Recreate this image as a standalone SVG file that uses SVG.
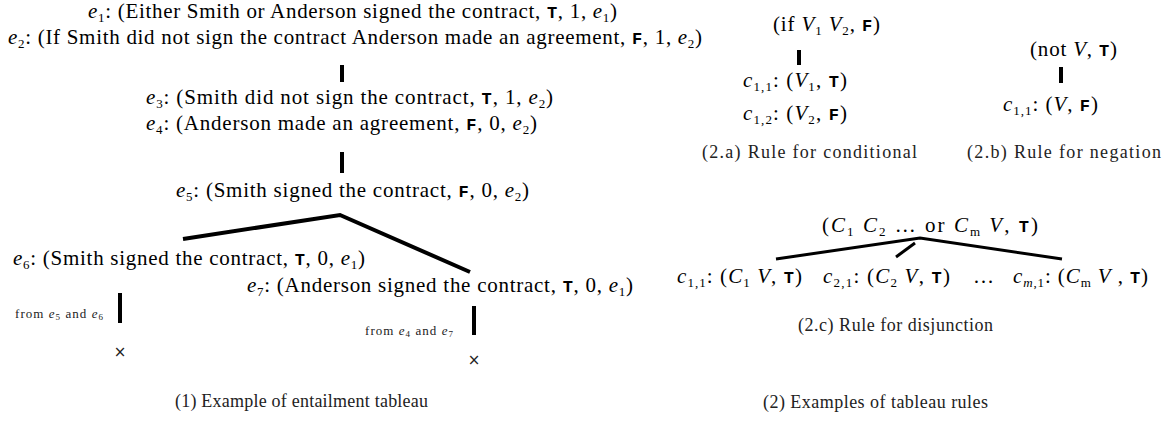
<svg xmlns="http://www.w3.org/2000/svg" width="1173" height="425" viewBox="0 0 1173 425">
<style>
.t{font-family:"Liberation Serif",serif;font-size:21px;fill:#000}
.m{font-family:"Liberation Mono",monospace;font-size:17px;font-weight:bold}
.i{font-style:italic}
.s{font-size:13px}
.sm{font-family:"Liberation Serif",serif;font-size:13px;fill:#222}
.x{font-family:"DejaVu Sans",sans-serif;font-size:15px;fill:#222}
.cap{font-family:"Liberation Serif",serif;font-size:18px;fill:#222}
.bar{stroke:#000;stroke-width:4;fill:none}
.br{stroke:#000;stroke-width:4;fill:none}
.br3{stroke:#000;stroke-width:3;fill:none}
</style>
<rect width="1173" height="425" fill="#fff"/>
<g id="connectors">
<line class="bar" x1="342" y1="65" x2="342" y2="82"/>
<line class="bar" x1="342" y1="152" x2="342" y2="173"/>
<polyline class="br" points="183,239 340,215 470,272"/>
<line class="bar" x1="120" y1="293" x2="120" y2="323"/>
<line class="bar" x1="474" y1="306" x2="474" y2="335"/>
<line class="bar" x1="799" y1="50" x2="799" y2="65"/>
<line class="bar" x1="1061" y1="67" x2="1061" y2="83"/>
<polyline class="br3" points="776,259 920,238 1062,259"/>
<line class="br3" x1="896" y1="257" x2="915" y2="243"/>
</g>
<g id="e1"><text class="t" x="88" y="18" textLength="529" lengthAdjust="spacing"><tspan class="i">e</tspan><tspan class="s" dy="4">1</tspan><tspan dy="-4">: (Either Smith or Anderson signed the contract, </tspan><tspan class="m">T</tspan>, 1, <tspan class="i">e</tspan><tspan class="s" dy="4">1</tspan><tspan dy="-4">)</tspan></text></g>
<g id="e2"><text class="t" x="8" y="44" textLength="694" lengthAdjust="spacing"><tspan class="i">e</tspan><tspan class="s" dy="4">2</tspan><tspan dy="-4">: (If Smith did not sign the contract Anderson made an agreement, </tspan><tspan class="m">F</tspan>, 1, <tspan class="i">e</tspan><tspan class="s" dy="4">2</tspan><tspan dy="-4">)</tspan></text></g>
<g id="e3"><text class="t" x="146" y="104" textLength="407" lengthAdjust="spacing"><tspan class="i">e</tspan><tspan class="s" dy="4">3</tspan><tspan dy="-4">: (Smith did not sign the contract, </tspan><tspan class="m">T</tspan>, 1, <tspan class="i">e</tspan><tspan class="s" dy="4">2</tspan><tspan dy="-4">)</tspan></text></g>
<g id="e4"><text class="t" x="146" y="130" textLength="391" lengthAdjust="spacing"><tspan class="i">e</tspan><tspan class="s" dy="4">4</tspan><tspan dy="-4">: (Anderson made an agreement, </tspan><tspan class="m">F</tspan>, 0, <tspan class="i">e</tspan><tspan class="s" dy="4">2</tspan><tspan dy="-4">)</tspan></text></g>
<g id="e5"><text class="t" x="176" y="197" textLength="353" lengthAdjust="spacing"><tspan class="i">e</tspan><tspan class="s" dy="4">5</tspan><tspan dy="-4">: (Smith signed the contract, </tspan><tspan class="m">F</tspan>, 0, <tspan class="i">e</tspan><tspan class="s" dy="4">2</tspan><tspan dy="-4">)</tspan></text></g>
<g id="e6"><text class="t" x="13" y="265" textLength="352" lengthAdjust="spacing"><tspan class="i">e</tspan><tspan class="s" dy="4">6</tspan><tspan dy="-4">: (Smith signed the contract, </tspan><tspan class="m">T</tspan>, 0, <tspan class="i">e</tspan><tspan class="s" dy="4">1</tspan><tspan dy="-4">)</tspan></text></g>
<g id="e7"><text class="t" x="247" y="292" textLength="386" lengthAdjust="spacing"><tspan class="i">e</tspan><tspan class="s" dy="4">7</tspan><tspan dy="-4">: (Anderson signed the contract, </tspan><tspan class="m">T</tspan>, 0, <tspan class="i">e</tspan><tspan class="s" dy="4">1</tspan><tspan dy="-4">)</tspan></text></g>
<g id="note1"><text class="sm" x="15" y="318" textLength="88" lengthAdjust="spacing">from <tspan class="i">e</tspan><tspan font-size="9" dy="2">5</tspan><tspan dy="-2"> and </tspan><tspan class="i">e</tspan><tspan font-size="9" dy="2">6</tspan></text></g>
<g id="close1"><text class="x" x="120" y="357" text-anchor="middle">×</text></g>
<g id="note2"><text class="sm" x="365" y="335" textLength="88" lengthAdjust="spacing">from <tspan class="i">e</tspan><tspan font-size="9" dy="2">4</tspan><tspan dy="-2"> and </tspan><tspan class="i">e</tspan><tspan font-size="9" dy="2">7</tspan></text></g>
<g id="close2"><text class="x" x="474" y="365" text-anchor="middle">×</text></g>
<g id="cap1"><text class="cap" x="175" y="407" textLength="253" lengthAdjust="spacing">(1) Example of entailment tableau</text></g>
<g id="ifroot"><text class="t" x="773" y="31" textLength="107" lengthAdjust="spacing">(if <tspan class="i">V</tspan><tspan class="s" dy="4">1</tspan><tspan dy="-4"> </tspan><tspan class="i">V</tspan><tspan class="s" dy="4">2</tspan><tspan dy="-4">, </tspan><tspan class="m">F</tspan>)</text></g>
<g id="if_c11"><text class="t" x="743" y="87" textLength="104" lengthAdjust="spacing"><tspan class="i">c</tspan><tspan class="s" dy="4">1,1</tspan><tspan dy="-4">: (</tspan><tspan class="i">V</tspan><tspan class="s" dy="4">1</tspan><tspan dy="-4">, </tspan><tspan class="m">T</tspan>)</text></g>
<g id="if_c12"><text class="t" x="743" y="120" textLength="104" lengthAdjust="spacing"><tspan class="i">c</tspan><tspan class="s" dy="4">1,2</tspan><tspan dy="-4">: (</tspan><tspan class="i">V</tspan><tspan class="s" dy="4">2</tspan><tspan dy="-4">, </tspan><tspan class="m">F</tspan>)</text></g>
<g id="notroot"><text class="t" x="1030" y="56" textLength="87" lengthAdjust="spacing">(not <tspan class="i">V</tspan>, <tspan class="m">T</tspan>)</text></g>
<g id="not_c11"><text class="t" x="1003" y="111" textLength="95" lengthAdjust="spacing"><tspan class="i">c</tspan><tspan class="s" dy="4">1,1</tspan><tspan dy="-4">: (</tspan><tspan class="i">V</tspan>, <tspan class="m">F</tspan>)</text></g>
<g id="cap2a"><text class="cap" x="702" y="158" textLength="215" lengthAdjust="spacing">(2.a) Rule for conditional</text></g>
<g id="cap2b"><text class="cap" x="967" y="158" textLength="194" lengthAdjust="spacing">(2.b) Rule for negation</text></g>
<g id="orroot"><text class="t" x="822" y="232" textLength="216" lengthAdjust="spacing">(<tspan class="i">C</tspan><tspan class="s" dy="4">1</tspan><tspan dy="-4"> </tspan><tspan class="i">C</tspan><tspan class="s" dy="4">2</tspan><tspan dy="-4"> … or   </tspan><tspan class="i">C</tspan><tspan class="s" dy="4">m</tspan><tspan dy="-4">   </tspan><tspan class="i">V</tspan>, <tspan class="m">T</tspan>)</text></g>
<g id="or_c11"><text class="t" x="677" y="283" textLength="125" lengthAdjust="spacing"><tspan class="i">c</tspan><tspan class="s" dy="4">1,1</tspan><tspan dy="-4">: (</tspan><tspan class="i">C</tspan><tspan class="s" dy="4">1</tspan><tspan dy="-4"> </tspan><tspan class="i">V</tspan>, <tspan class="m">T</tspan>)</text></g>
<g id="or_c21"><text class="t" x="823" y="283" textLength="127" lengthAdjust="spacing"><tspan class="i">c</tspan><tspan class="s" dy="4">2,1</tspan><tspan dy="-4">: (</tspan><tspan class="i">C</tspan><tspan class="s" dy="4">2</tspan><tspan dy="-4"> </tspan><tspan class="i">V</tspan>, <tspan class="m">T</tspan>)</text></g>
<g id="or_dots"><text class="t" x="973" y="283">…</text></g>
<g id="or_cm1"><text class="t" x="1013" y="283" textLength="135" lengthAdjust="spacing"><tspan class="i">c</tspan><tspan class="s" dy="4"><tspan class="i">m</tspan>,1</tspan><tspan dy="-4">: (</tspan><tspan class="i">C</tspan><tspan class="s" dy="4">m</tspan><tspan dy="-4"> </tspan><tspan class="i">V</tspan> , <tspan class="m">T</tspan>)</text></g>
<g id="cap2c"><text class="cap" x="798" y="331" textLength="195" lengthAdjust="spacing">(2.c) Rule for disjunction</text></g>
<g id="cap2"><text class="cap" x="763" y="408" textLength="225" lengthAdjust="spacing">(2) Examples of tableau rules</text></g>
</svg>
